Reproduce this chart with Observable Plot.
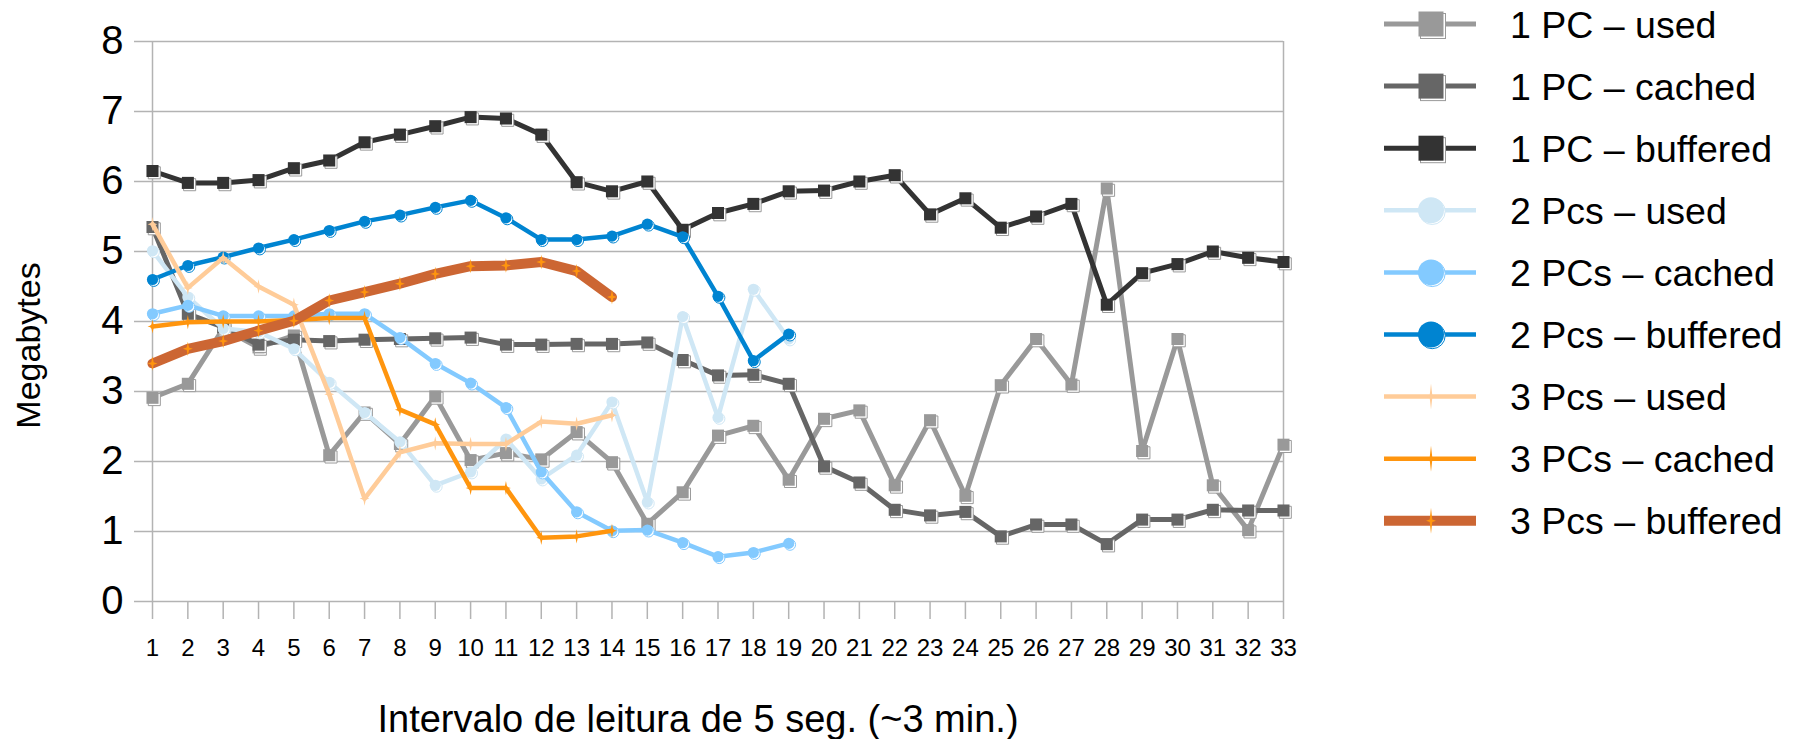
<!DOCTYPE html>
<html><head><meta charset="utf-8">
<script src="https://cdn.jsdelivr.net/npm/d3@7"></script>
<script src="https://cdn.jsdelivr.net/npm/@observablehq/plot@0.6"></script>
<style>
html,body{margin:0;padding:0;background:#fff;}
#wrap{position:relative;width:1796px;height:739px;font-family:"Liberation Sans",Arial,sans-serif;}
#legend{position:absolute;left:1370px;top:0;}
</style></head><body><div id="wrap"></div>
<script>
// ---- data ----
const intervals = [1,2,3,4,5,6,7,8,9,10,11,12,13,14,15,16,17,18,19,20,21,22,23,24,25,26,27,28,29,30,31,32,33];
const yTicks = [0,1,2,3,4,5,6,7,8];
const seriesNames = ["1 PC \u2013 used","1 PC \u2013 cached","1 PC \u2013 buffered","2 Pcs \u2013 used","2 PCs \u2013 cached","2 Pcs \u2013 buffered","3 Pcs \u2013 used","3 PCs \u2013 cached","3 Pcs \u2013 buffered"];
const pc1Used = [2.91,3.11,3.90,3.63,3.80,2.09,2.70,2.25,2.93,2.02,2.12,2.03,2.42,1.99,1.11,1.56,2.37,2.51,1.74,2.61,2.73,1.66,2.59,1.51,3.09,3.75,3.10,5.90,2.15,3.75,1.66,1.02,2.24];
const pc1Cached = [5.35,4.11,3.92,3.67,3.74,3.72,3.74,3.75,3.76,3.77,3.67,3.67,3.68,3.68,3.70,3.45,3.23,3.24,3.11,1.93,1.70,1.31,1.23,1.28,0.93,1.10,1.10,0.82,1.17,1.17,1.31,1.30,1.30];
const pc1Buffered = [6.15,5.98,5.98,6.02,6.19,6.30,6.56,6.67,6.79,6.92,6.90,6.67,5.99,5.86,6.00,5.31,5.55,5.68,5.86,5.87,6.00,6.09,5.53,5.76,5.34,5.50,5.68,4.24,4.69,4.82,5.00,4.91,4.85];
const pcs2Used = [5.01,4.35,3.90,3.85,3.61,3.13,2.70,2.28,1.66,1.85,2.32,1.75,2.09,2.85,1.42,4.07,2.63,4.46,3.75];
const pcs2Cached = [4.11,4.23,4.08,4.08,4.08,4.11,4.11,3.77,3.40,3.12,2.77,1.85,1.28,1.01,1.02,0.84,0.64,0.70,0.83];
const pcs2Buffered = [4.60,4.80,4.92,5.05,5.17,5.30,5.43,5.52,5.63,5.73,5.48,5.17,5.17,5.22,5.39,5.21,4.36,3.44,3.82];
const pcs3Used = [5.39,4.48,4.91,4.50,4.24,2.96,1.47,2.13,2.26,2.25,2.25,2.57,2.54,2.66];
const pcs3Cached = [3.93,3.99,4.00,4.00,4.02,4.05,4.05,2.74,2.53,1.62,1.62,0.91,0.93,1.01];
const pcs3Buffered = [3.40,3.61,3.72,3.87,4.01,4.30,4.42,4.54,4.68,4.79,4.80,4.85,4.72,4.35];
const xTitle = "Intervalo de leitura de 5 seg. (~3 min.)";
const yTitle = "Megabytes";

// ---- styles ----
const allValues = [pc1Used,pc1Cached,pc1Buffered,pcs2Used,pcs2Cached,pcs2Buffered,pcs3Used,pcs3Cached,pcs3Buffered];
const colors = ["#999999","#666666","#333333","#cfe7f5","#83caff","#0084d1","#ffcc99","#ff950e","#cc6633"];
const widths = [5,5,5,4.5,4.5,4.5,4.5,4.5,10];
const kinds = ["square","square","square","circle","circle","circle","star","star","star"];
const star4 = {
  draw(ctx, size) {
    const r = Math.sqrt(size / Math.PI);
    const h = r * 1.3, w = r * 0.9, k = r * 0.22;
    ctx.moveTo(0,-h); ctx.lineTo(k,-k); ctx.lineTo(w,0); ctx.lineTo(k,k);
    ctx.lineTo(0,h); ctx.lineTo(-k,k); ctx.lineTo(-w,0); ctx.lineTo(-k,-k); ctx.closePath();
  }
};
const FONT = "Liberation Sans, Arial, sans-serif";
const GRID = "#b3b3b3";

const marks = [
  Plot.gridY(yTicks, {stroke: GRID, strokeOpacity: 1, strokeWidth: 1.5}),
  Plot.ruleX([intervals[0], intervals[intervals.length-1]], {y1: 0, y2: 8, stroke: GRID, strokeWidth: 1.5}),
  Plot.axisY({ticks: yTicks, tickSize: 18, tickPadding: 11, fontSize: 40, stroke: GRID, strokeWidth: 1.5, fill: "#000", label: null}),
  Plot.axisX({ticks: intervals, tickSize: 18, tickPadding: 19, fontSize: 24, stroke: GRID, strokeWidth: 1.5, fill: "#000", tickFormat: d => String(d), label: null})
];

allValues.forEach((vals, i) => {
  const data = vals.map((v, j) => ({x: intervals[j], y: v}));
  marks.push(Plot.line(data, {x: "x", y: "y", stroke: colors[i], strokeWidth: widths[i], strokeLinejoin: "round", strokeLinecap: "round"}));
  if (kinds[i] === "square") {
    marks.push(Plot.dot(data, {x: "x", y: "y", symbol: "square", r: 6.8, fill: "white", stroke: "#9a9a9a", strokeWidth: 1, dx: 1.8, dy: 1.8}));
    marks.push(Plot.dot(data, {x: "x", y: "y", symbol: "square", r: 6.8, fill: colors[i], stroke: "none"}));
  } else if (kinds[i] === "circle") {
    marks.push(Plot.dot(data, {x: "x", y: "y", symbol: "circle", r: 5.6, fill: "white", stroke: colors[i], strokeWidth: 1, dx: 1.3, dy: 1.3}));
    marks.push(Plot.dot(data, {x: "x", y: "y", symbol: "circle", r: 5.6, fill: colors[i], stroke: "none"}));
  } else {
    marks.push(Plot.dot(data, {x: "x", y: "y", symbol: star4, r: 5.5, fill: colors[i === 8 ? 7 : i], stroke: "none"}));
  }
});

marks.push(Plot.text([xTitle], {text: d => d, frameAnchor: "bottom", textAnchor: "middle", dx: -20, dy: 118, lineAnchor: "middle", fontSize: 38, fill: "#000"}));
marks.push(Plot.text([yTitle], {text: d => d, frameAnchor: "left", textAnchor: "middle", dx: -123, dy: 24, rotate: -90, lineAnchor: "middle", fontSize: 34, fill: "#000"}));

const chart = Plot.plot({
  width: 1796, height: 739,
  marginLeft: 152, marginRight: 513, marginTop: 41, marginBottom: 138,
  x: {type: "linear", domain: [1, 33]},
  y: {domain: [0, 8]},
  style: {fontFamily: FONT, background: "white", color: "#000", overflow: "visible"},
  marks
});
const wrap = document.getElementById("wrap");
wrap.appendChild(chart);

// ---- legend (right side) ----
const lg = d3.select(wrap).append("svg").attr("id", "legend")
  .attr("width", 426).attr("height", 560)
  .style("font-family", FONT);
const rowY = i => 24 + i * 62.1;
const lx0 = 14, lx1 = 106, mx = 61, tx = 140;
seriesNames.forEach((name, i) => {
  const g = lg.append("g").attr("transform", `translate(0,${rowY(i)})`);
  g.append("line").attr("x1", lx0).attr("x2", lx1).attr("y1", 0).attr("y2", 0)
    .attr("stroke", colors[i]).attr("stroke-width", widths[i]);
  if (kinds[i] === "square") {
    g.append("rect").attr("x", mx - 12 + 1.5).attr("y", -12 + 1.5).attr("width", 25).attr("height", 25)
      .attr("fill", "white").attr("stroke", "#9a9a9a").attr("stroke-width", 1);
    g.append("rect").attr("x", mx - 12.5).attr("y", -12.5).attr("width", 25).attr("height", 25).attr("fill", colors[i]);
  } else if (kinds[i] === "circle") {
    g.append("circle").attr("cx", mx + 1.2).attr("cy", 1.2).attr("r", 13).attr("fill", "white").attr("stroke", colors[i]);
    g.append("circle").attr("cx", mx).attr("cy", 0).attr("r", 13).attr("fill", colors[i]);
  } else {
    const h = 13, w = 5, k = 1.3;
    g.append("path").attr("d", `M${mx},${-h}L${mx+k},${-k}L${mx+w},0L${mx+k},${k}L${mx},${h}L${mx-k},${k}L${mx-w},0L${mx-k},${-k}Z`)
      .attr("fill", colors[i === 8 ? 7 : i]);
  }
  g.append("text").attr("x", tx).attr("y", 0).attr("dy", "0.36em")
    .attr("font-size", 37.5).attr("fill", "#000").text(name);
});
</script></body></html>
